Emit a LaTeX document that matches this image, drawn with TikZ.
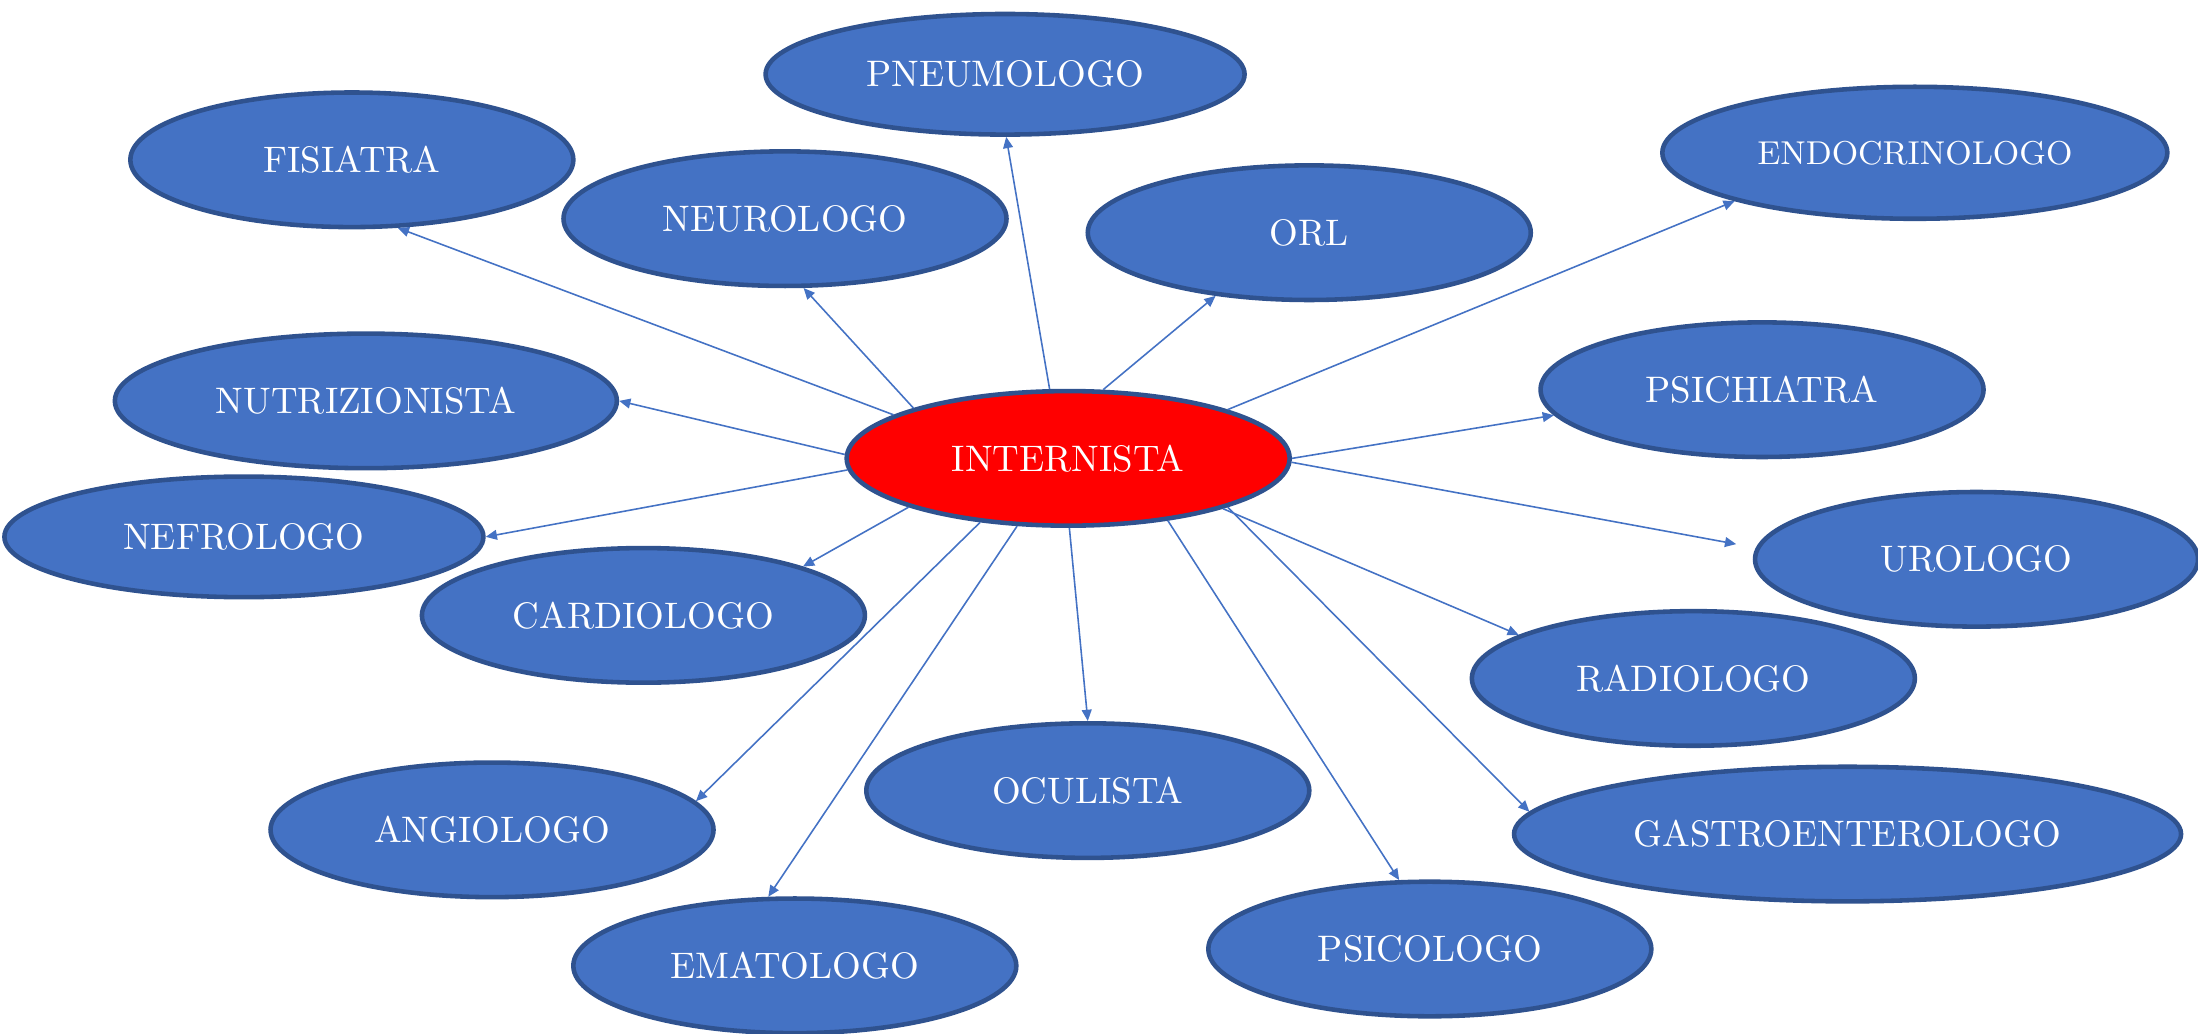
\documentclass[tikz,border=0pt]{standalone}
\usetikzlibrary{arrows.meta,shapes.geometric}
\definecolor{specblue}{HTML}{4472C4}
\definecolor{specedge}{HTML}{2F528F}
\begin{document}
\begin{tikzpicture}[x=0.14018mm,y=-0.14018mm,
    every node/.style={ellipse,draw=specedge,line width=1.3pt,text=white,inner sep=0pt,
      minimum width=44.3mm,minimum height=13.46mm,font=\fontsize{10.5}{12}\selectfont},
    spec/.style={fill=specblue},
    hub/.style={fill=red},
    link/.style={draw=specblue,line width=0.45pt,-{Triangle[length=3.2pt,width=2.8pt]}}]
  \useasboundingbox (0,0) rectangle (1568,737);
  % centro
  \node[hub] (intern) at (762,327) {INTERNISTA};
  % specialisti, dall'alto in basso
  \node[spec,minimum width=47.9mm,minimum height=12.06mm] (pneumo) at (717,53) {PNEUMOLOGO};
  \node[spec] (fisia) at (251,114) {FISIATRA};
  \node[spec,minimum width=50.5mm,minimum height=13.2mm,font=\fontsize{9.4}{11}\selectfont] (endo) at (1366,109) {ENDOCRINOLOGO};
  \node[spec] (neuro) at (560,156) {NEUROLOGO};
  \node[spec] (orl) at (934,166) {ORL};
  \node[spec] (psichi) at (1257,278) {PSICHIATRA};
  \node[spec,minimum width=50.2mm] (nutri) at (261,286) {NUTRIZIONISTA};
  \node[spec,minimum width=47.9mm,minimum height=12.06mm] (nefro) at (174,383) {NEFROLOGO};
  \node[spec] (uro) at (1410,399) {UROLOGO};
  \node[spec] (cardio) at (459,439) {CARDIOLOGO};
  \node[spec] (radio) at (1208,484) {RADIOLOGO};
  \node[spec] (ocul) at (776,564) {OCULISTA};
  \node[spec] (angio) at (351,592) {ANGIOLOGO};
  \node[spec,minimum width=66.7mm] (gastro) at (1318,595) {GASTROENTEROLOGO};
  \node[spec] (psico) at (1020,677) {PSICOLOGO};
  \node[spec] (emato) at (567,689) {EMATOLOGO};
  % frecce
  \foreach \a/\n/\b in {166/fisia/304, 162.5/neuro/285, 105.4/pneumo/271,
      63.4/orl/214, 17.2/endo/195, 179.3/nutri/0, 183.6/nefro/0,
      197.1/cardio/17.4, 0.4/psichi/187, 342/radio/166, 343/gastro/176,
      328/psico/114, 271/ocul/90, 233/emato/111, 216.5/angio/8.4}
    \draw[link] (intern.\a) -- (\n.\b);
  \draw[link,shorten >=2mm] (intern.359) -- (uro.177);
\end{tikzpicture}
\end{document}
